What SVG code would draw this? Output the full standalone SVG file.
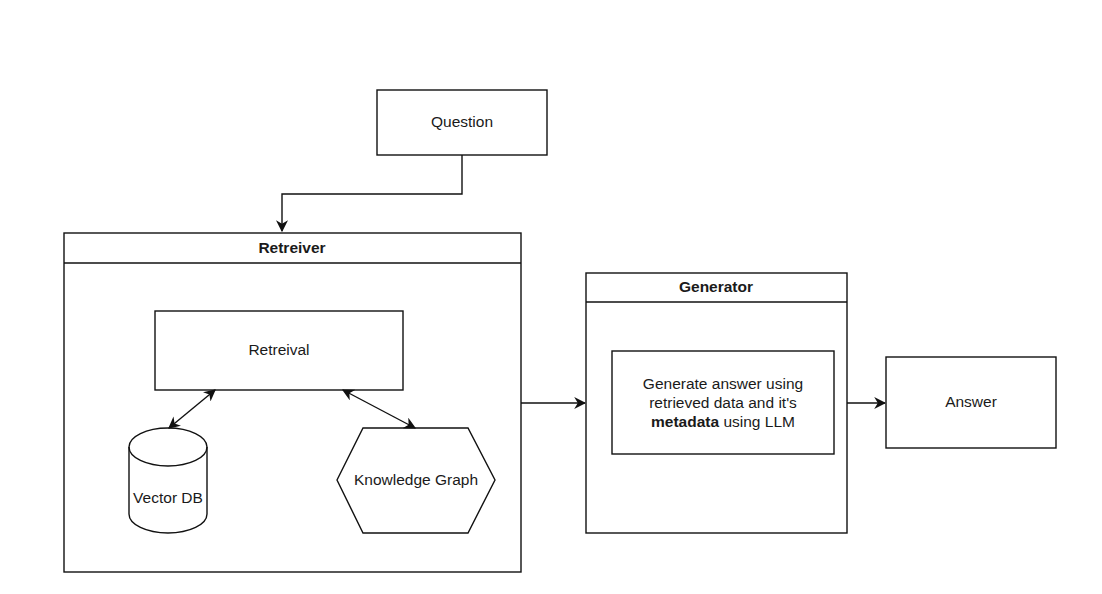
<svg xmlns="http://www.w3.org/2000/svg" width="1102" height="594" viewBox="0 0 1102 594">
<style>
.s{fill:#fff;stroke:#111;stroke-width:1.4}
.c{fill:none;stroke:#111;stroke-width:1.4}
text{font-family:"Liberation Sans",Arial,sans-serif;font-size:15.5px;fill:#1a1a1a;text-anchor:middle}
.b{font-weight:bold}
</style>
<defs>
<marker id="ah" viewBox="0 0 10 10" refX="9" refY="5" markerWidth="12" markerHeight="12" markerUnits="userSpaceOnUse" orient="auto-start-reverse">
<path d="M0,0 L10,5 L0,10 L3,5 Z" fill="#111"/>
</marker>
</defs>
<rect width="1102" height="594" fill="#fff"/>
<g id="question">
<rect class="s" x="377" y="90" width="170" height="65"/>
<text x="462" y="127">Question</text>
</g>
<g id="retreiver">
<rect class="s" x="64" y="233" width="457" height="339"/>
<line class="c" x1="64" y1="263" x2="521" y2="263"/>
<text class="b" x="292" y="253">Retreiver</text>
</g>
<g id="retreival">
<rect class="s" x="155" y="311" width="248" height="79"/>
<text x="279" y="355">Retreival</text>
</g>
<g id="vectordb">
<path class="s" d="M129,447 A39,19 0 0 1 207,447 L207,514 A39,19 0 0 1 129,514 Z"/>
<path class="c" d="M129,447 A39,19 0 0 0 207,447"/>
<text x="168" y="503">Vector DB</text>
</g>
<g id="knowledgegraph">
<polygon class="s" points="337,480 363,428 468,428 495,480 468,533 363,533"/>
<text x="416" y="485">Knowledge Graph</text>
</g>
<g id="generator">
<rect class="s" x="586" y="273" width="261" height="260"/>
<line class="c" x1="586" y1="302" x2="847" y2="302"/>
<text class="b" x="716" y="292">Generator</text>
</g>
<g id="generate">
<rect class="s" x="612" y="351" width="222" height="103"/>
<text x="723" y="389">Generate answer using</text>
<text x="723" y="408">retrieved data and it's</text>
<text x="723" y="427"><tspan class="b">metadata</tspan> using LLM</text>
</g>
<g id="answer">
<rect class="s" x="886" y="357" width="170" height="91"/>
<text x="971" y="407">Answer</text>
</g>
<g id="connectors">
<path class="c" d="M462,155 L462,194 L282,194 L282,231" marker-end="url(#ah)"/>
<line class="c" x1="215" y1="390" x2="169" y2="428" marker-start="url(#ah)" marker-end="url(#ah)"/>
<line class="c" x1="343" y1="390" x2="415" y2="428" marker-start="url(#ah)" marker-end="url(#ah)"/>
<line class="c" x1="521" y1="403" x2="585" y2="403" marker-end="url(#ah)"/>
<line class="c" x1="847" y1="403" x2="885" y2="403" marker-end="url(#ah)"/>
</g>
</svg>
